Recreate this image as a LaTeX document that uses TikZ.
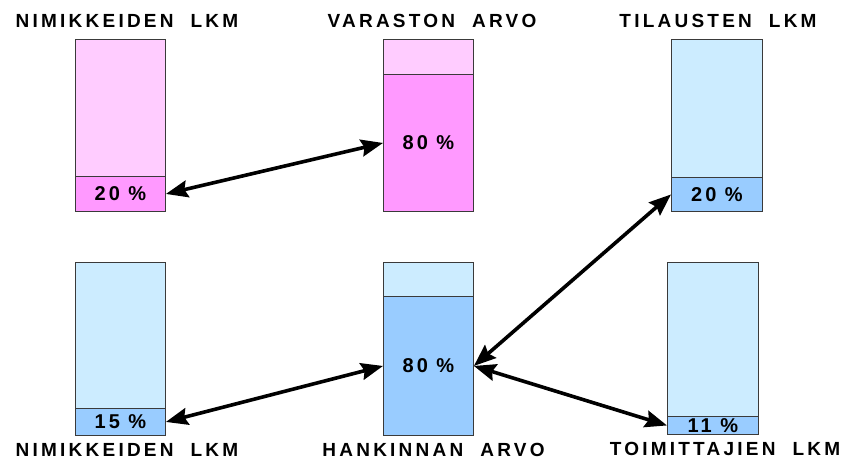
\documentclass[tikz,border=0pt]{standalone}
\usepackage{fontspec}
\setmainfont{Liberation Sans}
\usetikzlibrary{arrows.meta}
\definecolor{lpink}{HTML}{FFCCFF}
\definecolor{dpink}{HTML}{FF99FF}
\definecolor{lblue}{HTML}{CCECFF}
\definecolor{dblue}{HTML}{99CCFF}
\definecolor{edgegray}{HTML}{3A3A3A}
\begin{document}
\begin{tikzpicture}[x=1pt,y=-1pt,
 part/.style={draw=edgegray, line width=0.9pt, inner sep=0pt, minimum width=90pt, anchor=north west},
 pct/.style={font=\fontsize{20}{20}\selectfont\bfseries\addfontfeatures{LetterSpace=15}},
 ttl/.style={inner sep=0pt, font=\fontsize{19}{19}\selectfont\bfseries\addfontfeatures{LetterSpace=17}},
 link/.style={line width=3.6pt, {Stealth[length=22pt,width=17pt,inset=3pt]}-{Stealth[length=22pt,width=17pt,inset=3pt]}}]
\useasboundingbox (0,0) rectangle (845,459);
% top left
\node[part, fill=lpink, minimum height=137pt] (tlU) at (75,39) {};
\node[part, fill=dpink, minimum height=35pt, pct] (tlL) at (75,176) {20 \%};
% top middle
\node[part, fill=lpink, minimum height=35pt] (tmU) at (383,39) {};
\node[part, fill=dpink, minimum height=137pt, pct] (tmL) at (383,74) {80 \%};
% top right
\node[part, fill=lblue, minimum width=91pt, minimum height=138pt] (trU) at (671,39) {};
\node[part, fill=dblue, minimum width=91pt, minimum height=34pt, pct] (trL) at (671,177) {20 \%};
% bottom left
\node[part, fill=lblue, minimum height=146pt] (blU) at (75,262) {};
\node[part, fill=dblue, minimum height=27pt, pct] (blL) at (75,408) {15 \%};
% bottom middle
\node[part, fill=lblue, minimum height=34pt] (bmU) at (383,262) {};
\node[part, fill=dblue, minimum height=139pt, pct] (bmL) at (383,296) {80 \%};
% bottom right
\node[part, fill=lblue, minimum width=91pt, minimum height=154pt] (brU) at (667,262) {};
\node[part, fill=dblue, minimum width=91pt, minimum height=18pt, pct] (brL) at (667,416) {11 \%};
% titles
\node[ttl] (t1) at (127,20.5) {NIMIKKEIDEN\ \ LKM};
\node[ttl] (t2) at (432,20.5) {VARASTON\ \ ARVO};
\node[ttl] (t3) at (718,20.5) {TILAUSTEN\ \ LKM};
\node[ttl] (t4) at (127,450) {NIMIKKEIDEN\ \ LKM};
\node[ttl] (t5) at (433.5,449.5) {HANKINNAN\ \ ARVO};
\node[ttl] (t6) at (725,448.5) {TOIMITTAJIEN\ \ LKM};
% arrows
\draw[link] (tlL.east) -- (tmL.west);
\draw[link] (blL.east) -- (bmL.west);
\draw[link] (bmL.east) -- (trL.west);
\draw[link] (bmL.east) -- (brL.west);
\end{tikzpicture}
\end{document}
